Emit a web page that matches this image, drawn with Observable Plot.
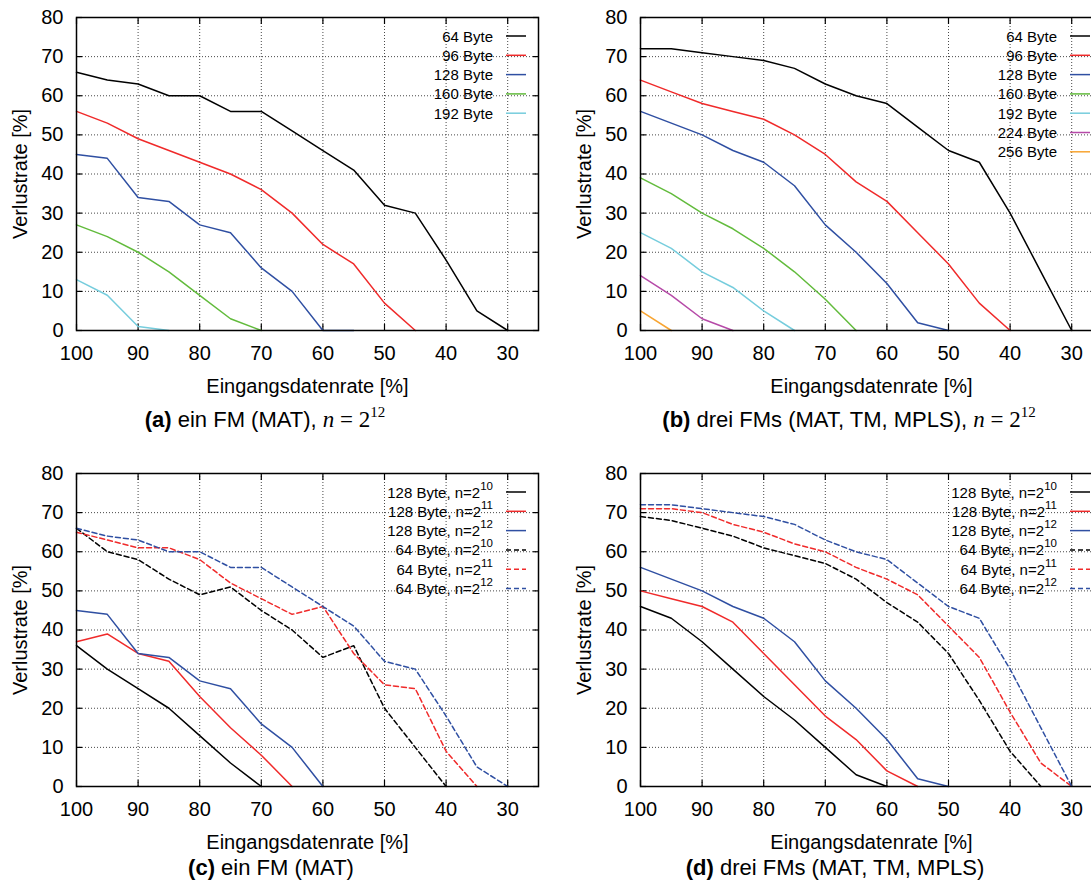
<!DOCTYPE html>
<html><head><meta charset="utf-8">
<script src="https://cdn.jsdelivr.net/npm/d3@7"></script>
<script src="https://cdn.jsdelivr.net/npm/@observablehq/plot@0.6"></script>
<style>
body{margin:0;background:#fff;}
#root{position:relative;width:1091px;height:889px;overflow:hidden;background:#fff;font-family:"Liberation Sans",Arial,sans-serif;color:#000;}
.panel{position:absolute;}
.cap{position:absolute;font-size:22px;white-space:nowrap;transform:translate(-50%,-50%);line-height:1;}
.cap b{font-weight:bold;}
.m{font-family:"Liberation Serif","DejaVu Serif",serif;font-size:23px;}
.m i{font-style:italic;}
.m sup{font-size:15px;vertical-align:0;position:relative;top:-10px;}
</style></head><body><div id="root"></div>
<script>
// ---- shared axes ----
const rates = [100, 95, 90, 85, 80, 75, 70, 65, 60, 55, 50, 45, 40, 35, 30];
const xTicks = [100, 90, 80, 70, 60, 50, 40, 30];
const yTicks = [0, 10, 20, 30, 40, 50, 60, 70, 80];
const xLabel = "Eingangsdatenrate [%]";
const yLabel = "Verlustrate [%]";

// ---- panel (a): ein FM (MAT), n = 2^12 ----
const a64  = [66, 64, 63, 60, 60, 56, 56, 51, 46, 41, 32, 30, 18, 5, 0];
const a96  = [56, 53, 49, 46, 43, 40, 36, 30, 22, 17, 7, 0];
const a128 = [45, 44, 34, 33, 27, 25, 16, 10, 0, 0];
const a160 = [27, 24, 20, 15, 9, 3, 0];
const a192 = [13, 9, 1, 0];

// ---- panel (b): drei FMs (MAT, TM, MPLS), n = 2^12 ----
const b64  = [72, 72, 71, 70, 69, 67, 63, 60, 58, 52, 46, 43, 30, 15, 0];
const b96  = [64, 61, 58, 56, 54, 50, 45, 38, 33, 25, 17, 7, 0];
const b128 = [56, 53, 50, 46, 43, 37, 27, 20, 12, 2, 0];
const b160 = [39, 35, 30, 26, 21, 15, 8, 0];
const b192 = [25, 21, 15, 11, 5, 0];
const b224 = [14, 9, 3, 0];
const b256 = [5, 0];

// ---- panel (c): ein FM (MAT) ----
const c128n10 = [36, 30, 25, 20, 13, 6, 0];
const c128n11 = [37, 39, 34, 32, 23, 15, 8, 0];
const c128n12 = [45, 44, 34, 33, 27, 25, 16, 10, 0];
const c64n10  = [66, 60, 58, 53, 49, 51, 45, 40, 33, 36, 20, 10, 0];
const c64n11  = [65, 63, 61, 61, 58, 52, 48, 44, 46, 34, 26, 25, 9, 0];
const c64n12  = [66, 64, 63, 60, 60, 56, 56, 51, 46, 41, 32, 30, 18, 5, 0];

// ---- panel (d): drei FMs (MAT, TM, MPLS) ----
const d128n10 = [46, 43, 37, 30, 23, 17, 10, 3, 0];
const d128n11 = [50, 48, 46, 42, 34, 26, 18, 12, 4, 0];
const d128n12 = [56, 53, 50, 46, 43, 37, 27, 20, 12, 2, 0];
const d64n10  = [69, 68, 66, 64, 61, 59, 57, 53, 47, 42, 34, 22, 9, 0];
const d64n11  = [71, 71, 70, 67, 65, 62, 60, 56, 53, 49, 41, 33, 19, 6, 0];
const d64n12  = [72, 72, 71, 70, 69, 67, 63, 60, 58, 52, 46, 43, 30, 15, 0];

// ---- legend labels ----
const byteLabels = ["64 Byte", "96 Byte", "128 Byte", "160 Byte", "192 Byte", "224 Byte", "256 Byte"];
const nLabels = [["128 Byte, n=2", "10"], ["128 Byte, n=2", "11"], ["128 Byte, n=2", "12"],
                 ["64 Byte, n=2", "10"], ["64 Byte, n=2", "11"], ["64 Byte, n=2", "12"]];

const C = {black: "#000000", red: "#f02a2a", blue: "#2f4fa2", green: "#62bb3c", cyan: "#76cddd", magenta: "#b64aa8", orange: "#f8a532"};
const DASH = "5,3";

const seriesA = [
  {v: a64, c: C.black, l: [byteLabels[0]]}, {v: a96, c: C.red, l: [byteLabels[1]]},
  {v: a128, c: C.blue, l: [byteLabels[2]]}, {v: a160, c: C.green, l: [byteLabels[3]]},
  {v: a192, c: C.cyan, l: [byteLabels[4]]}];
const seriesB = [
  {v: b64, c: C.black, l: [byteLabels[0]]}, {v: b96, c: C.red, l: [byteLabels[1]]},
  {v: b128, c: C.blue, l: [byteLabels[2]]}, {v: b160, c: C.green, l: [byteLabels[3]]},
  {v: b192, c: C.cyan, l: [byteLabels[4]]}, {v: b224, c: C.magenta, l: [byteLabels[5]]},
  {v: b256, c: C.orange, l: [byteLabels[6]]}];
const seriesC = [
  {v: c128n10, c: C.black, l: nLabels[0]}, {v: c128n11, c: C.red, l: nLabels[1]},
  {v: c128n12, c: C.blue, l: nLabels[2]}, {v: c64n10, c: C.black, d: DASH, l: nLabels[3]},
  {v: c64n11, c: C.red, d: DASH, l: nLabels[4]}, {v: c64n12, c: C.blue, d: DASH, l: nLabels[5]}];
const seriesD = [
  {v: d128n10, c: C.black, l: nLabels[0]}, {v: d128n11, c: C.red, l: nLabels[1]},
  {v: d128n12, c: C.blue, l: nLabels[2]}, {v: d64n10, c: C.black, d: DASH, l: nLabels[3]},
  {v: d64n11, c: C.red, d: DASH, l: nLabels[4]}, {v: d64n12, c: C.blue, d: DASH, l: nLabels[5]}];

const W = 545, H = 400, ML = 76, MR = 7, MT = 17, MB = 70;
const root = document.getElementById("root");

function panel(series, left, top) {
  const marks = [
    Plot.gridX(xTicks, {stroke: "#333", strokeOpacity: 1, strokeWidth: 0.9, strokeDasharray: "1,2"}),
    Plot.gridY(yTicks, {stroke: "#333", strokeOpacity: 1, strokeWidth: 0.9, strokeDasharray: "1,2"}),
    Plot.axisX(xTicks, {tickSize: -6, tickPadding: 21, strokeWidth: 1.2, label: xLabel, labelAnchor: "center", labelArrow: "none", labelOffset: 62, fontSize: 20}),
    Plot.axisX(xTicks, {anchor: "top", tickSize: -6, strokeWidth: 1.2, tickFormat: () => "", label: null}),
    Plot.axisY(yTicks, {tickSize: -6, tickPadding: 19, strokeWidth: 1.2, label: yLabel, labelAnchor: "center", labelArrow: "none", labelOffset: 64, fontSize: 20}),
    Plot.axisY(yTicks, {anchor: "right", tickSize: -6, strokeWidth: 1.2, tickFormat: () => "", label: null}),
    ...series.map(s => Plot.line(s.v.map((y, i) => ({x: rates[i], y})), {
      x: "x", y: "y", stroke: s.c, strokeWidth: 1.5, strokeDasharray: s.d || null, strokeLinejoin: "miter"})),
    Plot.frame({stroke: "black", strokeWidth: 1.5})
  ];
  const el = Plot.plot({
    width: W, height: H, marginLeft: ML, marginRight: MR, marginTop: MT, marginBottom: MB,
    x: {domain: [100, 25]},
    y: {domain: [0, 80]},
    style: {fontFamily: '"Liberation Sans", Arial, sans-serif', fontSize: "20px", color: "#000", background: "transparent", overflow: "visible"},
    marks
  });
  el.classList.add("panel");
  el.style.left = left + "px";
  el.style.top = top + "px";
  root.appendChild(el);
  // legend (key) in the upper right, inside the frame
  const svg = d3.select(el.tagName.toLowerCase() === "svg" ? el : el.querySelector("svg"));
  const right = W - MR;
  const g = svg.append("g").attr("font-family", '"Liberation Sans", Arial, sans-serif').attr("font-size", 15);
  series.forEach((s, i) => {
    const cy = MT + 19 + i * 19.3;
    const t = g.append("text").attr("x", right - 45).attr("y", cy + 5.5).attr("text-anchor", "end").attr("fill", "#000");
    t.append("tspan").text(s.l[0]);
    if (s.l[1]) t.append("tspan").attr("dy", -8).attr("font-size", 11.5).text(s.l[1]);
    g.append("line").attr("x1", right - 32).attr("x2", right - 12).attr("y1", cy).attr("y2", cy)
      .attr("stroke", s.c).attr("stroke-width", 1.5).attr("stroke-dasharray", s.d || null);
  });
}

panel(seriesA, 0, 0);
panel(seriesB, 563.5, 0);
panel(seriesC, 0, 456);
panel(seriesD, 563.5, 456);

function caption(html, x, y) {
  const d = document.createElement("div");
  d.className = "cap";
  d.innerHTML = html;
  d.style.left = x + "px";
  d.style.top = y + "px";
  root.appendChild(d);
}
caption('<b>(a)</b> ein FM (MAT), <span class="m"><i>n</i> = 2<sup>12</sup></span>', 265, 419);
caption('<b>(b)</b> drei FMs (MAT, TM, MPLS), <span class="m"><i>n</i> = 2<sup>12</sup></span>', 849, 419);
caption('<b>(c)</b> ein FM (MAT)', 271, 868);
caption('<b>(d)</b> drei FMs (MAT, TM, MPLS)', 835, 868);
</script></body></html>
